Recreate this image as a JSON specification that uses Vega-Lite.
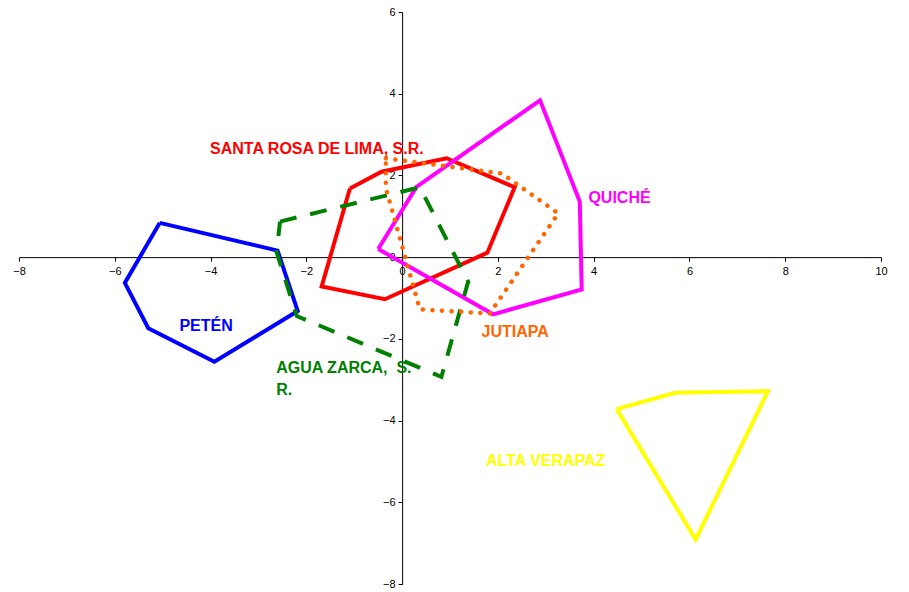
{
  "$schema": "https://vega.github.io/schema/vega-lite/v6.json",
  "width": 862,
  "height": 572,
  "autosize": {"type": "none"},
  "padding": {"left": 19, "top": 12, "right": 28, "bottom": 8},
  "background": "white",
  "config": {
    "view": {"stroke": null},
    "axis": {
      "grid": false,
      "title": null,
      "labelFont": "Liberation Sans",
      "labelFontSize": 11,
      "labelColor": "black",
      "domainColor": "black",
      "domainWidth": 1,
      "tickColor": "black",
      "tickSize": 4,
      "labelFlush": false,
      "labelOverlap": false
    }
  },
  "datasets": {
    "poly": [
      {"s": "PETÉN", "i": 0, "x": -5.06, "y": 0.84},
      {"s": "PETÉN", "i": 1, "x": -2.60, "y": 0.16},
      {"s": "PETÉN", "i": 2, "x": -2.18, "y": -1.32},
      {"s": "PETÉN", "i": 3, "x": -3.92, "y": -2.56},
      {"s": "PETÉN", "i": 4, "x": -5.30, "y": -1.74},
      {"s": "PETÉN", "i": 5, "x": -5.79, "y": -0.63},
      {"s": "PETÉN", "i": 6, "x": -5.06, "y": 0.84},
      {"s": "SANTA ROSA", "i": 0, "x": -1.09, "y": 1.68},
      {"s": "SANTA ROSA", "i": 1, "x": -0.43, "y": 2.09},
      {"s": "SANTA ROSA", "i": 2, "x": 0.93, "y": 2.42},
      {"s": "SANTA ROSA", "i": 3, "x": 2.35, "y": 1.71},
      {"s": "SANTA ROSA", "i": 4, "x": 1.78, "y": 0.11},
      {"s": "SANTA ROSA", "i": 5, "x": -0.36, "y": -1.03},
      {"s": "SANTA ROSA", "i": 6, "x": -1.68, "y": -0.72},
      {"s": "SANTA ROSA", "i": 7, "x": -1.09, "y": 1.68},
      {"s": "QUICHÉ", "i": 0, "x": -0.50, "y": 0.20},
      {"s": "QUICHÉ", "i": 1, "x": 0.30, "y": 1.72},
      {"s": "QUICHÉ", "i": 2, "x": 2.88, "y": 3.84},
      {"s": "QUICHÉ", "i": 3, "x": 3.71, "y": 1.36},
      {"s": "QUICHÉ", "i": 4, "x": 3.75, "y": -0.79},
      {"s": "QUICHÉ", "i": 5, "x": 1.90, "y": -1.40},
      {"s": "QUICHÉ", "i": 6, "x": -0.50, "y": 0.20},
      {"s": "ALTA VERAPAZ", "i": 0, "x": 4.48, "y": -3.72},
      {"s": "ALTA VERAPAZ", "i": 1, "x": 5.70, "y": -3.32},
      {"s": "ALTA VERAPAZ", "i": 2, "x": 7.64, "y": -3.28},
      {"s": "ALTA VERAPAZ", "i": 3, "x": 6.13, "y": -6.91},
      {"s": "ALTA VERAPAZ", "i": 4, "x": 4.48, "y": -3.72},
      {"s": "AGUA ZARCA", "i": 0, "x": -2.55, "y": 0.87},
      {"s": "AGUA ZARCA", "i": 1, "x": 0.37, "y": 1.71},
      {"s": "AGUA ZARCA", "i": 2, "x": 1.38, "y": -0.60},
      {"s": "AGUA ZARCA", "i": 3, "x": 0.82, "y": -2.93},
      {"s": "AGUA ZARCA", "i": 4, "x": -2.20, "y": -1.44},
      {"s": "AGUA ZARCA", "i": 5, "x": -2.62, "y": 0.12},
      {"s": "AGUA ZARCA", "i": 6, "x": -2.55, "y": 0.87},
      {"s": "JUTIAPA", "i": 0, "x": -0.34, "y": 2.42},
      {"s": "JUTIAPA", "i": 1, "x": 2.08, "y": 2.05},
      {"s": "JUTIAPA", "i": 2, "x": 3.26, "y": 1.07},
      {"s": "JUTIAPA", "i": 3, "x": 1.83, "y": -1.38},
      {"s": "JUTIAPA", "i": 4, "x": 0.37, "y": -1.28},
      {"s": "JUTIAPA", "i": 5, "x": -0.34, "y": 1.69},
      {"s": "JUTIAPA", "i": 6, "x": -0.34, "y": 2.42}
    ],
    "labels": [
      {"s": "SANTA ROSA", "t": "SANTA ROSA DE LIMA, S.R.", "x": -4.01, "y": 2.65},
      {"s": "QUICHÉ", "t": "QUICHÉ", "x": 3.89, "y": 1.44},
      {"s": "PETÉN", "t": "PETÉN", "x": -4.65, "y": -1.69},
      {"s": "JUTIAPA", "t": "JUTIAPA", "x": 1.66, "y": -1.83},
      {"s": "AGUA ZARCA", "t": "AGUA ZARCA, \u00a0S.", "x": -2.63, "y": -2.72},
      {"s": "AGUA ZARCA", "t": "R.", "x": -2.63, "y": -3.24},
      {"s": "ALTA VERAPAZ", "t": "ALTA VERAPAZ", "x": 1.75, "y": -5.0}
    ]
  },
  "encoding": {
    "x": {
      "field": "x", "type": "quantitative",
      "scale": {"domain": [-8, 10], "nice": false, "zero": false},
      "axis": {"orient": "bottom", "offset": -326.86, "values": [-8, -6, -4, -2, 0, 2, 4, 6, 8, 10], "labelPadding": 4}
    },
    "y": {
      "field": "y", "type": "quantitative",
      "scale": {"domain": [-8, 6], "nice": false, "zero": false},
      "axis": {"orient": "left", "offset": -383.11, "values": [-8, -6, -4, -2, 0, 2, 4, 6], "labelPadding": 3}
    },
    "color": {
      "field": "s", "type": "nominal", "legend": null,
      "scale": {
        "domain": ["PETÉN", "AGUA ZARCA", "SANTA ROSA", "JUTIAPA", "QUICHÉ", "ALTA VERAPAZ"],
        "range": ["#0000FF", "#008000", "#FF0000", "#FF6600", "#FF00FF", "#FFFF00"]
      }
    }
  },
  "layer": [
    {
      "data": {"name": "poly"},
      "transform": [{"filter": "datum.s !== 'AGUA ZARCA' && datum.s !== 'JUTIAPA'"}],
      "mark": {"type": "line", "strokeWidth": 4, "strokeJoin": "miter"},
      "encoding": {"order": {"field": "i", "type": "quantitative"}}
    },
    {
      "data": {"name": "poly"},
      "transform": [{"filter": "datum.s === 'AGUA ZARCA'"}],
      "mark": {"type": "line", "strokeWidth": 4, "strokeDash": [17, 14], "strokeCap": "butt"},
      "encoding": {"order": {"field": "i", "type": "quantitative"}}
    },
    {
      "data": {"name": "poly"},
      "transform": [{"filter": "datum.s === 'JUTIAPA'"}],
      "mark": {"type": "line", "strokeWidth": 4.5, "strokeDash": [0.1, 9.5], "strokeCap": "round"},
      "encoding": {"order": {"field": "i", "type": "quantitative"}}
    },
    {
      "data": {"name": "labels"},
      "mark": {"type": "text", "align": "left", "baseline": "middle", "font": "Liberation Sans", "fontSize": 16, "fontWeight": "bold"},
      "encoding": {"text": {"field": "t"}}
    }
  ]
}
